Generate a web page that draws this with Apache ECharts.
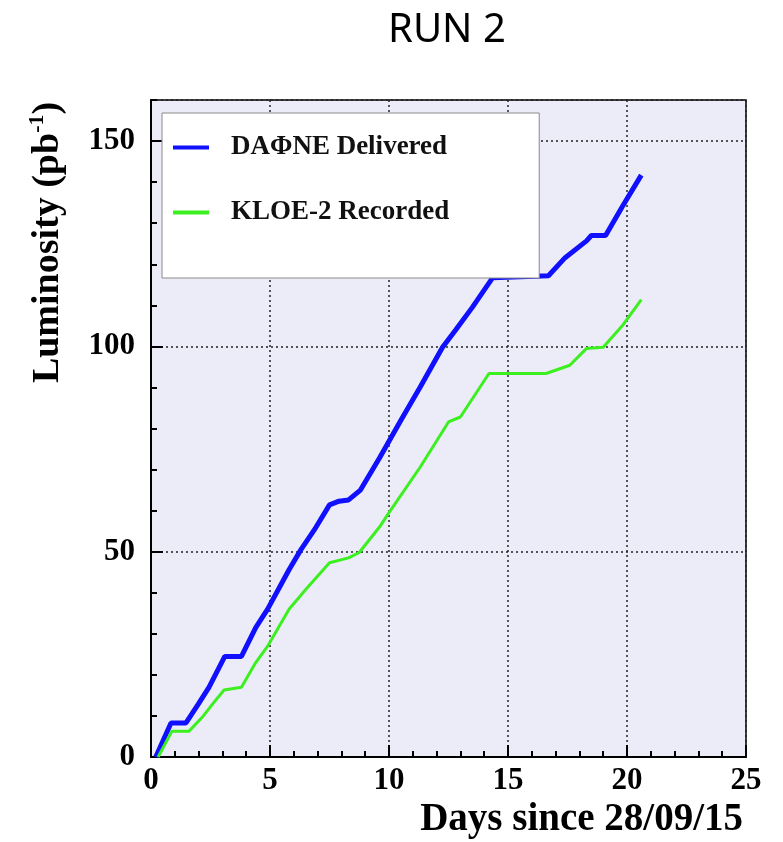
<!DOCTYPE html>
<html>
<head>
<meta charset="utf-8">
<title>RUN 2 luminosity</title>
<script src="https://cdn.jsdelivr.net/npm/echarts@6/dist/echarts.min.js"></script>
<style>
  html, body { margin: 0; padding: 0; background: #fff; }
  #chart { width: 783px; height: 842px; }
</style>
</head>
<body>
<div id="chart"></div>
<script>
// DAΦNE delivered (blue)
const deliveredDays = [0.2, 0.84, 1.47, 2.0, 2.44, 3.1, 3.8, 4.4, 4.9, 5.8, 6.3, 6.86, 7.5, 7.9, 8.3, 8.8, 9.6, 10.5, 11.3, 12.25, 12.8, 13.5, 14.35, 16.7, 17.4, 18.3, 18.5, 19.1, 19.8, 20.6]
const deliveredLumi = [0, 8.3, 8.3, 13, 17, 24.5, 24.5, 31.5, 36, 45.6, 50.5, 55.3, 61.4, 62.3, 62.6, 65, 72.8, 82, 90, 99.8, 104, 109.5, 116.7, 117.2, 121.6, 125.7, 127, 127, 134, 141.7]

// KLOE-2 recorded (green)
const recordedDays = [0.3, 0.88, 1.6, 2.2, 2.6, 3.07, 3.8, 4.4, 4.9, 5.8, 6.5, 7.5, 8.3, 8.75, 9.6, 10, 11.3, 12.5, 13, 14.2, 16.6, 17.6, 18.3, 19.0, 19.8, 20.6]
const recordedLumi = [0, 6.3, 6.3, 10, 13, 16.3, 17, 23, 27, 36, 40.8, 47.3, 48.5, 49.8, 56, 59.5, 70.5, 81.6, 82.8, 93.4, 93.4, 95.4, 99.5, 99.8, 105, 111.4]

const seriesNames = ['DAΦNE Delivered', 'KLOE-2 Recorded']

const toPairs = (xs, ys) => xs.map((x, i) => [x, ys[i]])

const serif = 'Liberation Serif'
const chart = echarts.init(document.getElementById('chart'))

chart.setOption({
  animation: false,
  backgroundColor: '#fff',
  title: {
    text: 'RUN 2',
    left: 383,
    top: 6,
    textStyle: { fontFamily: 'Noto Sans', fontSize: 40, fontWeight: 'normal', color: '#000' }
  },
  legend: {
    orient: 'vertical',
    left: 162,
    top: 113,
    data: seriesNames,
    icon: 'rect',
    itemWidth: 36,
    itemHeight: 4,
    itemGap: 38,
    padding: [21, 90, 52, 11],
    backgroundColor: '#fff',
    borderColor: '#8a8a8a',
    borderWidth: 1,
    textStyle: {
      fontFamily: serif,
      fontWeight: 'bold',
      fontSize: 27,
      color: '#111',
      padding: [0, 0, 0, 17]
    }
  },
  grid: {
    left: 151,
    right: 37,
    top: 100,
    bottom: 85,
    show: true,
    backgroundColor: '#ececf8',
    borderColor: '#000',
    borderWidth: 1.5,
    containLabel: false,
    outerBoundsMode: 'none'
  },
  xAxis: {
    type: 'value',
    min: 0,
    max: 25,
    interval: 5,
    name: 'Days since 28/09/15',
    nameLocation: 'end',
    nameGap: -3,
    nameTextStyle: {
      fontFamily: serif,
      fontWeight: 'bold',
      fontSize: 39,
      color: '#000',
      align: 'right',
      verticalAlign: 'top',
      padding: [43, 0, 0, 0]
    },
    axisLine: { lineStyle: { color: '#000', width: 2 } },
    axisTick: { inside: true, length: 12, lineStyle: { color: '#000', width: 2 } },
    minorTick: { show: true, splitNumber: 5, length: 6, lineStyle: { color: '#000', width: 2 } },
    axisLabel: { fontFamily: serif, fontWeight: 'bold', fontSize: 31, color: '#000', margin: 8 },
    splitLine: { show: true, lineStyle: { color: '#222', width: 1.5, type: [2, 3] } }
  },
  yAxis: [
    {
      type: 'value',
      min: 0,
      max: 160,
      interval: 50,
      position: 'left',
      name: 'Luminosity (pb{sup|-1})',
      nameLocation: 'middle',
      nameGap: 81,
      nameTextStyle: {
        fontFamily: serif,
        fontWeight: 'bold',
        fontSize: 38,
        lineHeight: 44,
        color: '#000',
        padding: [0, 0, 0, 372],
        rich: {
          sup: { fontFamily: serif, fontWeight: 'bold', fontSize: 22, lineHeight: 44, verticalAlign: 'top', color: '#000' }
        }
      },
      axisLine: { show: true, lineStyle: { color: '#000', width: 2 } },
      axisTick: { inside: true, length: 12, lineStyle: { color: '#000', width: 2 } },
      axisLabel: { fontFamily: serif, fontWeight: 'bold', fontSize: 31, color: '#000', margin: 16, showMaxLabel: false },
      splitLine: { show: true, lineStyle: { color: '#222', width: 1.5, type: [2, 3] } }
    },
    {
      // minor ticks every 10
      type: 'value',
      min: 0,
      max: 160,
      interval: 10,
      position: 'left',
      offset: 0,
      axisLine: { show: false },
      axisTick: { inside: true, length: 6, lineStyle: { color: '#000', width: 2 } },
      axisLabel: { show: false },
      splitLine: { show: false }
    }
  ],
  series: [
    {
      name: seriesNames[0],
      type: 'line',
      showSymbol: false,
      symbol: 'none',
      data: toPairs(deliveredDays, deliveredLumi),
      lineStyle: { color: '#1010ff', width: 5 },
      itemStyle: { color: '#1010ff' }
    },
    {
      name: seriesNames[1],
      type: 'line',
      showSymbol: false,
      symbol: 'none',
      data: toPairs(recordedDays, recordedLumi),
      lineStyle: { color: '#3cf020', width: 3 },
      itemStyle: { color: '#3cf020' }
    }
  ]
})
</script>
</body>
</html>
